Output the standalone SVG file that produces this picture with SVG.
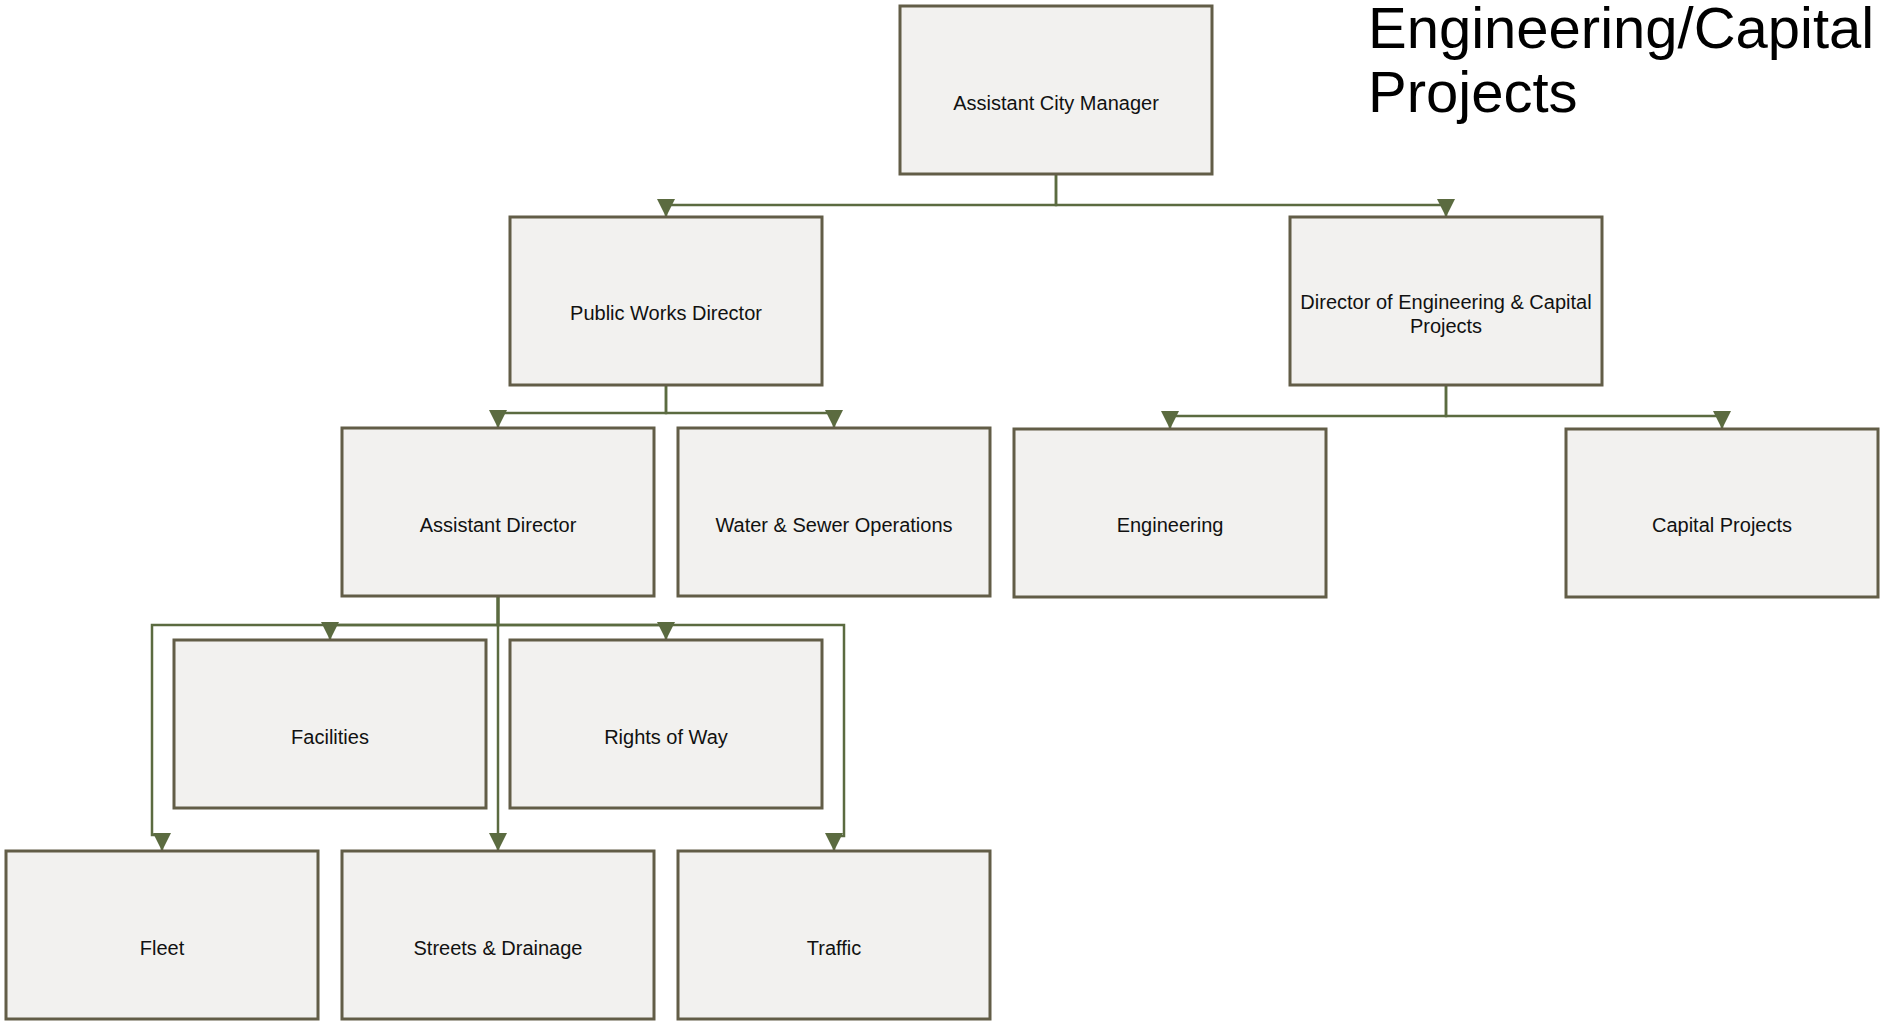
<svg xmlns="http://www.w3.org/2000/svg" width="1881" height="1021" viewBox="0 0 1881 1021">
  <style>
    .box { fill: #f2f1ef; stroke: #625d47; stroke-width: 3; }
    .lbl { font-family: "Liberation Sans", Arial, sans-serif; font-size: 20px; fill: #111; text-anchor: middle; }
    .title { font-family: "Liberation Sans", Arial, sans-serif; font-size: 58px; fill: #000; }
    .conn { fill: none; stroke: #5b6b40; stroke-width: 2.5; marker-end: url(#arrow); }
  </style>
  <defs>
    <marker id="arrow" viewBox="0 0 18 18" refX="18" refY="9" markerWidth="18" markerHeight="18" markerUnits="userSpaceOnUse" orient="auto">
      <path d="M0,0 L18,9 L0,18 Z" fill="#5b6b40"/>
    </marker>
  </defs>
  <rect width="1881" height="1021" fill="#ffffff"/>

  <text class="title" x="1368" y="48">Engineering/Capital</text>
  <text class="title" x="1368" y="112">Projects</text>

  <g id="connectors">
    <path class="conn" d="M1056,174 V205 H666 V217"/>
    <path class="conn" d="M1056,174 V205 H1446 V217"/>
    <path class="conn" d="M666,385 V413 H498 V428"/>
    <path class="conn" d="M666,385 V413 H834 V428"/>
    <path class="conn" d="M1446,385 V416 H1170 V429"/>
    <path class="conn" d="M1446,385 V416 H1722 V429"/>
    <path class="conn" d="M498,597 V625 H330 V640"/>
    <path class="conn" d="M498,597 V625 H666 V640"/>
    <path class="conn" d="M498,597 V625 H152 V835 H162 V851"/>
    <path class="conn" d="M498,597 V851"/>
    <path class="conn" d="M498,597 V625 H844 V836 H834 V851"/>
  </g>

  <g id="assistant-city-manager">
    <rect class="box" x="900" y="6" width="312" height="168"/>
    <text class="lbl" x="1056" y="110">Assistant City Manager</text>
  </g>
  <g id="public-works-director">
    <rect class="box" x="510" y="217" width="312" height="168"/>
    <text class="lbl" x="666" y="320">Public Works Director</text>
  </g>
  <g id="director-engineering">
    <rect class="box" x="1290" y="217" width="312" height="168"/>
    <text class="lbl" x="1446" y="309">Director of Engineering &amp; Capital</text>
    <text class="lbl" x="1446" y="333">Projects</text>
  </g>
  <g id="assistant-director">
    <rect class="box" x="342" y="428" width="312" height="168"/>
    <text class="lbl" x="498" y="532">Assistant Director</text>
  </g>
  <g id="water-sewer">
    <rect class="box" x="678" y="428" width="312" height="168"/>
    <text class="lbl" x="834" y="532">Water &amp; Sewer Operations</text>
  </g>
  <g id="engineering">
    <rect class="box" x="1014" y="429" width="312" height="168"/>
    <text class="lbl" x="1170" y="532">Engineering</text>
  </g>
  <g id="capital-projects">
    <rect class="box" x="1566" y="429" width="312" height="168"/>
    <text class="lbl" x="1722" y="532">Capital Projects</text>
  </g>
  <g id="facilities">
    <rect class="box" x="174" y="640" width="312" height="168"/>
    <text class="lbl" x="330" y="744">Facilities</text>
  </g>
  <g id="rights-of-way">
    <rect class="box" x="510" y="640" width="312" height="168"/>
    <text class="lbl" x="666" y="744">Rights of Way</text>
  </g>
  <g id="fleet">
    <rect class="box" x="6" y="851" width="312" height="168"/>
    <text class="lbl" x="162" y="955">Fleet</text>
  </g>
  <g id="streets-drainage">
    <rect class="box" x="342" y="851" width="312" height="168"/>
    <text class="lbl" x="498" y="955">Streets &amp; Drainage</text>
  </g>
  <g id="traffic">
    <rect class="box" x="678" y="851" width="312" height="168"/>
    <text class="lbl" x="834" y="955">Traffic</text>
  </g>
</svg>
